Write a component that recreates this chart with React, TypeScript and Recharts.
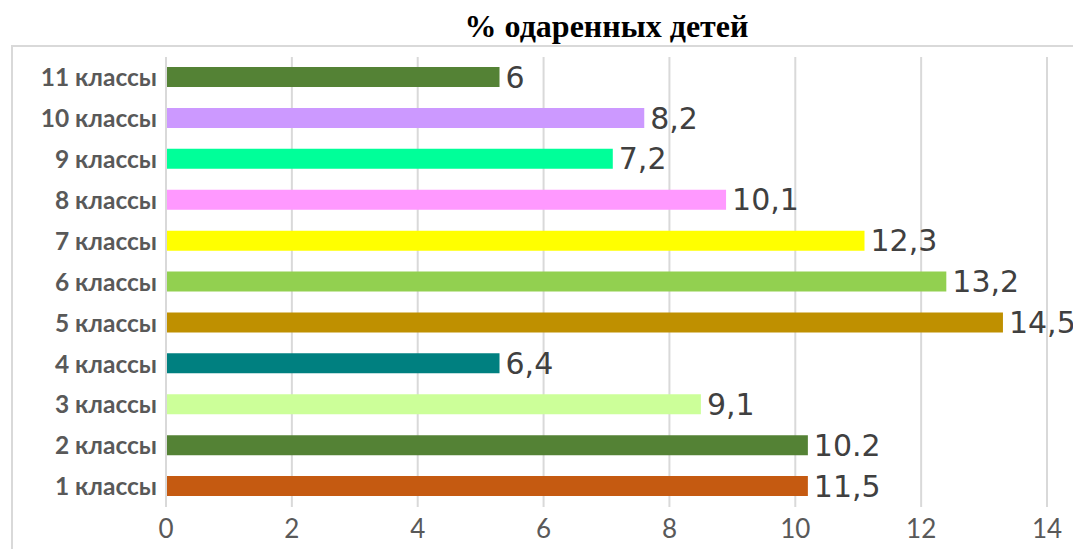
import React from "react";
import { BarChart, Bar, XAxis, YAxis, CartesianGrid, Cell, LabelList } from "recharts";

const categories = ["1 классы", "2 классы", "3 классы", "4 классы", "5 классы", "6 классы", "7 классы", "8 классы", "9 классы", "10 классы", "11 классы"];
const barValues = [10.2, 10.2, 8.5, 5.3, 13.3, 12.4, 11.1, 8.9, 7.1, 7.6, 5.3];
const valueLabels = ["11,5", "10.2", "9,1", "6,4", "14,5", "13,2", "12,3", "10,1", "7,2", "8,2", "6"];
const barColors = ["#C55A11", "#548235", "#CCFF99", "#008080", "#BF9000", "#92D050", "#FFFF00", "#FF99FF", "#00FF99", "#CC99FF", "#548235"];
const xTicks = [0, 2, 4, 6, 8, 10, 12, 14];
const title = "% одаренных детей";

const data = categories.map((name, i) => ({ name, value: barValues[i], label: valueLabels[i] }));

export default function App() {
  return (
    <div style={{ position: "absolute", left: 0, top: 0, width: 1073, height: 549, overflow: "hidden", background: "#fff" }}>
      <div
        style={{
          position: "absolute",
          left: 11,
          top: 45,
          width: 1100,
          height: 600,
          border: "2px solid #D9D9D9",
          boxSizing: "border-box",
        }}
      />
      <div
        style={{
          position: "absolute",
          left: 166,
          width: 881,
          top: 8,
          textAlign: "center",
          fontFamily: "'Liberation Serif', serif",
          fontWeight: "bold",
          fontSize: 32,
          lineHeight: "36px",
          color: "#000",
        }}
      >
        {title}
      </div>
      <div style={{ position: "absolute", left: 0, top: 0 }}>
        <BarChart
          width={1073}
          height={549}
          data={data}
          layout="vertical"
          margin={{ top: 57, right: 26, bottom: 0, left: 0 }}
          barCategoryGap="50%"
        >
          <CartesianGrid horizontal={false} vertical={true} stroke="#D9D9D9" strokeWidth={2} />
          <XAxis
            type="number"
            domain={[0, 14]}
            ticks={xTicks}
            axisLine={false}
            tickLine={false}
            tickSize={0}
            tickMargin={13}
            height={42}
            interval={0}
            tick={{ fill: "#595959", fontSize: 26, fontFamily: "Lato" }}
          />
          <YAxis
            type="category"
            dataKey="name"
            reversed
            width={166}
            axisLine={{ stroke: "#D9D9D9", strokeWidth: 2 }}
            tickLine={false}
            tickSize={0}
            tickMargin={9}
            interval={0}
            tick={{ fill: "#595959", fontSize: 24.5, fontFamily: "Lato", fontWeight: "bold" }}
          />
          <Bar dataKey="value" barSize={20} isAnimationActive={false}>
            {data.map((d, i) => (
              <Cell key={d.name} fill={barColors[i]} />
            ))}
            <LabelList
              dataKey="label"
              position="right"
              offset={6}
              fill="#404040"
              fontSize={30}
              fontFamily="'DejaVu Sans'"
            />
          </Bar>
        </BarChart>
      </div>
    </div>
  );
}
